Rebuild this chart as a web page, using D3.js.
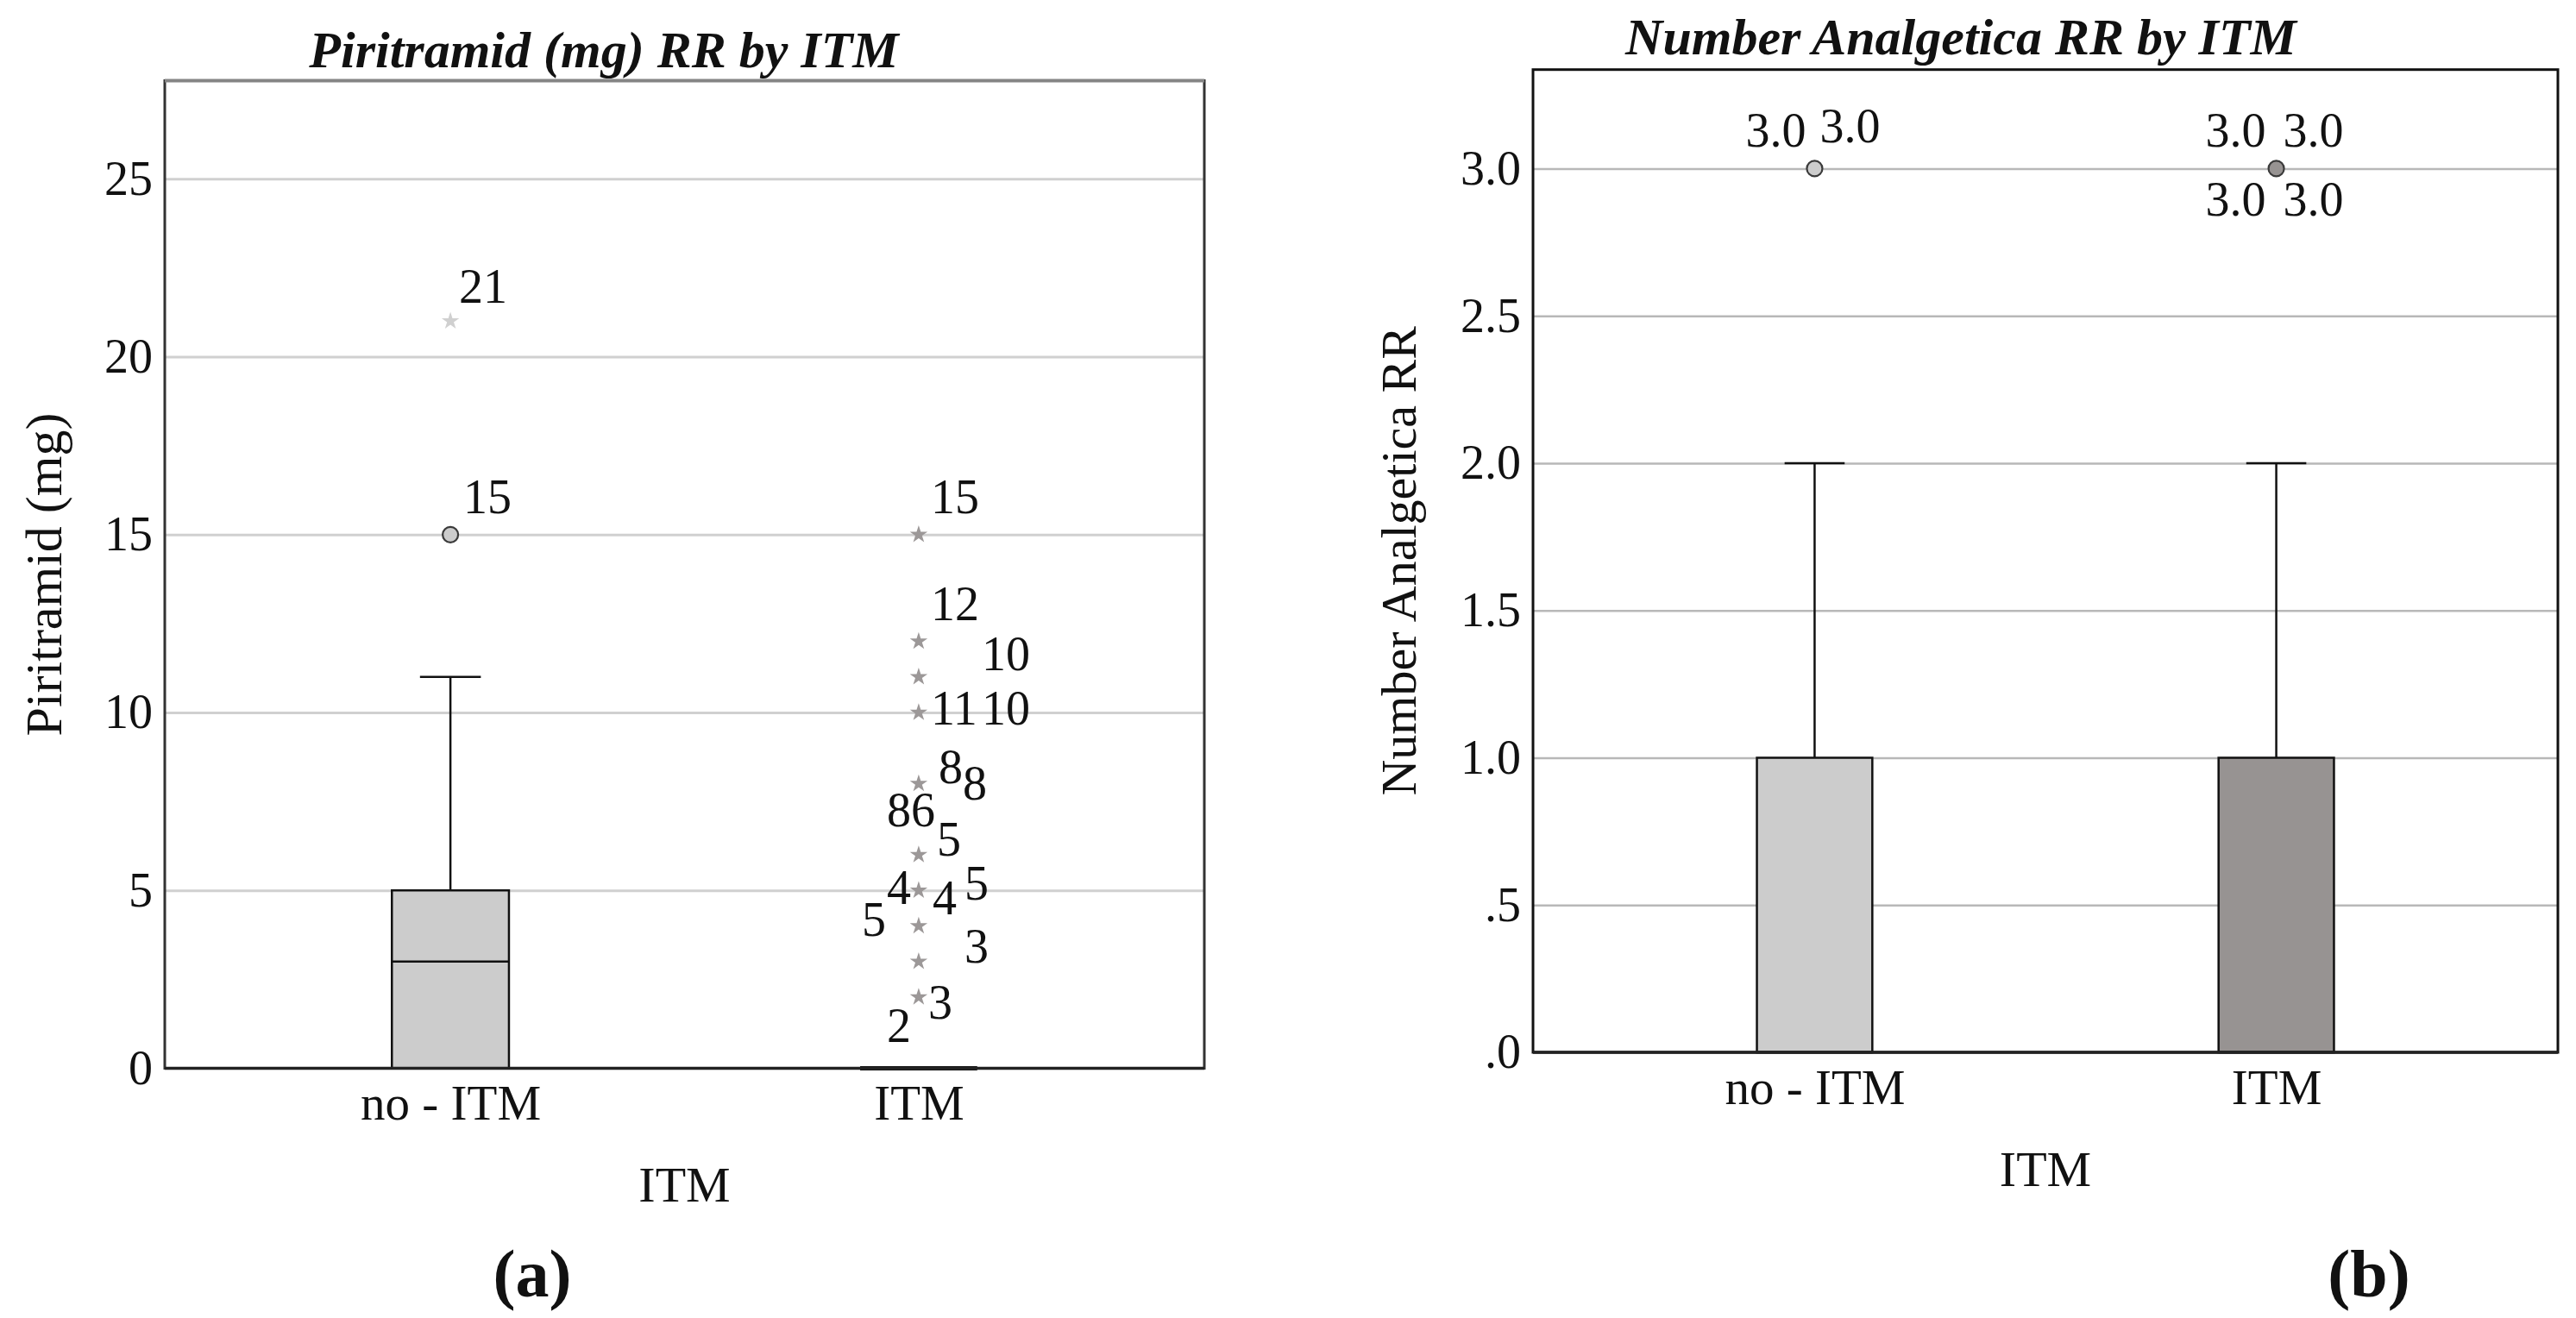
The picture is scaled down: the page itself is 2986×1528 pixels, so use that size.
<!DOCTYPE html>
<html>
<head>
<meta charset="utf-8">
<script src="https://cdn.jsdelivr.net/npm/d3@7"></script>
<style>
  html, body { margin: 0; padding: 0; background: #fff; }
  svg { display: block; }
  text { font-family: "Liberation Serif", "Times New Roman", serif; fill: #111; }
</style>
</head>
<body>
<svg id="chart" width="2986" height="1528"></svg>
<script>
// ---------------- DATA ----------------
const categories = ["no - ITM", "ITM"];
const groupFill = ["#cccccc", "#979392"];

// Panel (a): Piritramid (mg) RR by ITM
const piriTicks = [0, 5, 10, 15, 20, 25];
const piriQ1 = [0, 0];
const piriMedian = [3, 0];
const piriQ3 = [5, 0];
const piriWhiskerLow = [0, 0];
const piriWhiskerHigh = [11, 0];
const piriOutliers = [[15], []];                                  // circles
const piriExtremes = [[21], [15, 12, 11, 10, 8, 6, 5, 4, 3, 2]];  // stars
const piriLabelCat = [0, 0, 1, 1, 1, 1, 1, 1, 1, 1, 1, 1, 1, 1, 1, 1, 1, 1];
const piriLabelValue = [21, 15, 15, 12, 11, 10, 10, 8, 8, 6, 6, 5, 5, 5, 4, 3, 2, 2];
const piriLabelText = ["21", "15", "15", "12", "10", "11", "10", "8", "8", "86", "5", "4", "5", "4", "5", "3", "3", "2"];

// Panel (b): Number Analgetica RR by ITM
const analgTicks = [0, 0.5, 1, 1.5, 2, 2.5, 3];
const analgQ1 = [0, 0];
const analgMedian = [0, 0];
const analgQ3 = [1, 1];
const analgWhiskerLow = [0, 0];
const analgWhiskerHigh = [2, 2];
const analgOutliers = [[3], [3]];
const analgExtremes = [[], []];
const analgLabelCat = [0, 0, 1, 1, 1, 1];
const analgLabelValue = [3, 3, 3, 3, 3, 3];
const analgLabelText = ["3.0", "3.0", "3.0", "3.0", "3.0", "3.0"];

// ---------------- LAYOUT (pixel offsets of case labels) ----------------
const piriLabelOffsets = [[10, -21], [15, -25], [14, -25], [14, -25], [73, -8], [14, 14], [73, 14],
  [23, -1], [51, 18], [-37, -33], [21, 1], [-37, 16], [53, 11], [16, 28], [-66, 11], [53, 1], [11, 25], [-37, 52]];
const analgLabelOffsets = [[-80, -25], [6, -30], [-82, -25], [8, -25], [-82, 55], [8, 55]];

const svg = d3.select("#chart");

function drawPanel(cfg) {
  const g = svg.append("g");
  const x = d3.scalePoint().domain(categories).range([cfg.left, cfg.right]).padding(0.61);
  const y = d3.scaleLinear().domain([0, cfg.yMax]).range([cfg.bottom, cfg.top]);
  const step = x.step();
  const bw = step * 0.25;
  const capW = bw * 0.52;

  // gridlines
  g.append("g")
    .attr("transform", `translate(${cfg.left},0)`)
    .call(d3.axisLeft(y).tickValues(cfg.ticks.filter(t => t > 0)).tickSize(-(cfg.right - cfg.left)).tickFormat(""))
    .call(s => s.select(".domain").remove())
    .call(s => s.selectAll(".tick line").attr("stroke", cfg.gridColor).attr("stroke-width", cfg.gridWidth));

  // y tick labels
  g.append("g")
    .attr("transform", `translate(${cfg.left},0)`)
    .call(d3.axisLeft(y).tickValues(cfg.ticks).tickSize(0).tickPadding(14).tickFormat(cfg.tickFormat))
    .call(s => s.select(".domain").remove())
    .call(s => s.selectAll("text").attr("font-size", 56).attr("font-family", '"Liberation Serif", serif').attr("fill", "#111"));

  // x tick labels
  g.append("g")
    .attr("transform", `translate(0,${cfg.bottom})`)
    .call(d3.axisBottom(x).tickSize(0).tickPadding(cfg.xTickPad))
    .call(s => s.select(".domain").remove())
    .call(s => s.selectAll("text").attr("font-size", 57).attr("font-family", '"Liberation Serif", serif').attr("fill", "#111"));

  // boxes
  categories.forEach((c, i) => {
    const cx = x(c);
    const x0 = cx - bw / 2, x1 = cx + bw / 2;
    if (cfg.whiskerHigh[i] > cfg.q3[i]) {
      g.append("line").attr("x1", cx).attr("x2", cx).attr("y1", y(cfg.q3[i])).attr("y2", y(cfg.whiskerHigh[i]))
        .attr("stroke", "#111").attr("stroke-width", 2.5);
      g.append("line").attr("x1", cx - capW / 2).attr("x2", cx + capW / 2).attr("y1", y(cfg.whiskerHigh[i])).attr("y2", y(cfg.whiskerHigh[i]))
        .attr("stroke", "#111").attr("stroke-width", 2.5);
    }
    if (cfg.whiskerLow[i] < cfg.q1[i]) {
      g.append("line").attr("x1", cx).attr("x2", cx).attr("y1", y(cfg.q1[i])).attr("y2", y(cfg.whiskerLow[i]))
        .attr("stroke", "#111").attr("stroke-width", 2.5);
      g.append("line").attr("x1", cx - capW / 2).attr("x2", cx + capW / 2).attr("y1", y(cfg.whiskerLow[i])).attr("y2", y(cfg.whiskerLow[i]))
        .attr("stroke", "#111").attr("stroke-width", 2.5);
    }
    const yTop = y(cfg.q3[i]), yBot = y(cfg.q1[i]);
    g.append("path")
      .attr("d", `M${x0},${yBot}H${x1}V${yTop}H${x0}Z`)
      .attr("fill", groupFill[i]).attr("stroke", "#111")
      .attr("stroke-width", yTop === yBot ? 5 : 2.5);
    g.append("line").attr("x1", x0).attr("x2", x1).attr("y1", y(cfg.median[i])).attr("y2", y(cfg.median[i]))
      .attr("stroke", "#111").attr("stroke-width", 2.5);
  });

  // frame
  g.append("rect").attr("x", cfg.left).attr("y", cfg.top)
    .attr("width", cfg.right - cfg.left).attr("height", cfg.bottom - cfg.top)
    .attr("fill", "none").attr("stroke", cfg.frameColor).attr("stroke-width", 3);
  if (cfg.topColor) {
    g.append("line").attr("x1", cfg.left).attr("x2", cfg.right).attr("y1", cfg.top).attr("y2", cfg.top)
      .attr("stroke", cfg.topColor).attr("stroke-width", 4);
  }
  g.append("line").attr("x1", cfg.left).attr("x2", cfg.right).attr("y1", cfg.bottom).attr("y2", cfg.bottom)
    .attr("stroke", "#222").attr("stroke-width", 3.5);

  // outliers (circles) and extremes (stars)
  categories.forEach((c, i) => {
    cfg.outliers[i].forEach(v => {
      g.append("circle").attr("cx", x(c)).attr("cy", y(v)).attr("r", 9)
        .attr("fill", groupFill[i]).attr("stroke", "#3a3a3a").attr("stroke-width", 2.2);
    });
    cfg.extremes[i].forEach(v => {
      g.append("path").attr("d", d3.symbol(d3.symbolStar, 130)())
        .attr("transform", `translate(${x(c)},${y(v)})`)
        .attr("fill", i === 0 ? "#d0d0d0" : "#9c9898");
    });
  });

  // case labels
  cfg.labelText.forEach((t, k) => {
    const c = categories[cfg.labelCat[k]];
    g.append("text")
      .attr("x", x(c) + cfg.labelOffsets[k][0])
      .attr("y", y(cfg.labelValue[k]) + cfg.labelOffsets[k][1])
      .attr("font-size", 56)
      .text(t);
  });

  // titles
  g.append("text").attr("x", cfg.titleX).attr("y", cfg.titleY).attr("text-anchor", "middle")
    .attr("font-size", 60).attr("font-weight", "bold").attr("font-style", "italic").text(cfg.title);
  g.append("text").attr("transform", `translate(${cfg.yTitleX},${(cfg.top + cfg.bottom) / 2}) rotate(-90)`)
    .attr("text-anchor", "middle").attr("font-size", cfg.yTitleSize).text(cfg.yTitle);
  g.append("text").attr("x", (cfg.left + cfg.right) / 2).attr("y", cfg.xTitleY).attr("text-anchor", "middle")
    .attr("font-size", 58).text("ITM");
  g.append("text").attr("x", cfg.panelX).attr("y", 1503).attr("text-anchor", "middle")
    .attr("font-size", 78).attr("font-weight", "bold").text(cfg.panel);
}

drawPanel({
  left: 191, right: 1396, top: 93.5, bottom: 1238.5, yMax: 27.76,
  ticks: piriTicks, tickFormat: d3.format("d"),
  gridColor: "#d0d0d0", gridWidth: 3, frameColor: "#333", topColor: "#858585",
  q1: piriQ1, median: piriMedian, q3: piriQ3, whiskerLow: piriWhiskerLow, whiskerHigh: piriWhiskerHigh,
  outliers: piriOutliers, extremes: piriExtremes,
  labelCat: piriLabelCat, labelValue: piriLabelValue, labelText: piriLabelText, labelOffsets: piriLabelOffsets,
  title: "Piritramid (mg) RR by ITM", titleX: 700, titleY: 78,
  yTitle: "Piritramid (mg)", yTitleX: 71, yTitleSize: 60,
  xTickPad: 19, xTitleY: 1393, panel: "(a)", panelX: 617
});

drawPanel({
  left: 1777, right: 2965, top: 80.7, bottom: 1220, yMax: 3.336,
  ticks: analgTicks, tickFormat: v => d3.format(".1f")(v).replace(/^0\./, "."),
  gridColor: "#b8b8b8", gridWidth: 2.5, frameColor: "#111", topColor: null,
  q1: analgQ1, median: analgMedian, q3: analgQ3, whiskerLow: analgWhiskerLow, whiskerHigh: analgWhiskerHigh,
  outliers: analgOutliers, extremes: analgExtremes,
  labelCat: analgLabelCat, labelValue: analgLabelValue, labelText: analgLabelText, labelOffsets: analgLabelOffsets,
  title: "Number Analgetica RR by ITM", titleX: 2273, titleY: 63,
  yTitle: "Number Analgetica RR", yTitleX: 1641, yTitleSize: 58,
  xTickPad: 20, xTitleY: 1375, panel: "(b)", panelX: 2746
});
</script>
</body>
</html>
